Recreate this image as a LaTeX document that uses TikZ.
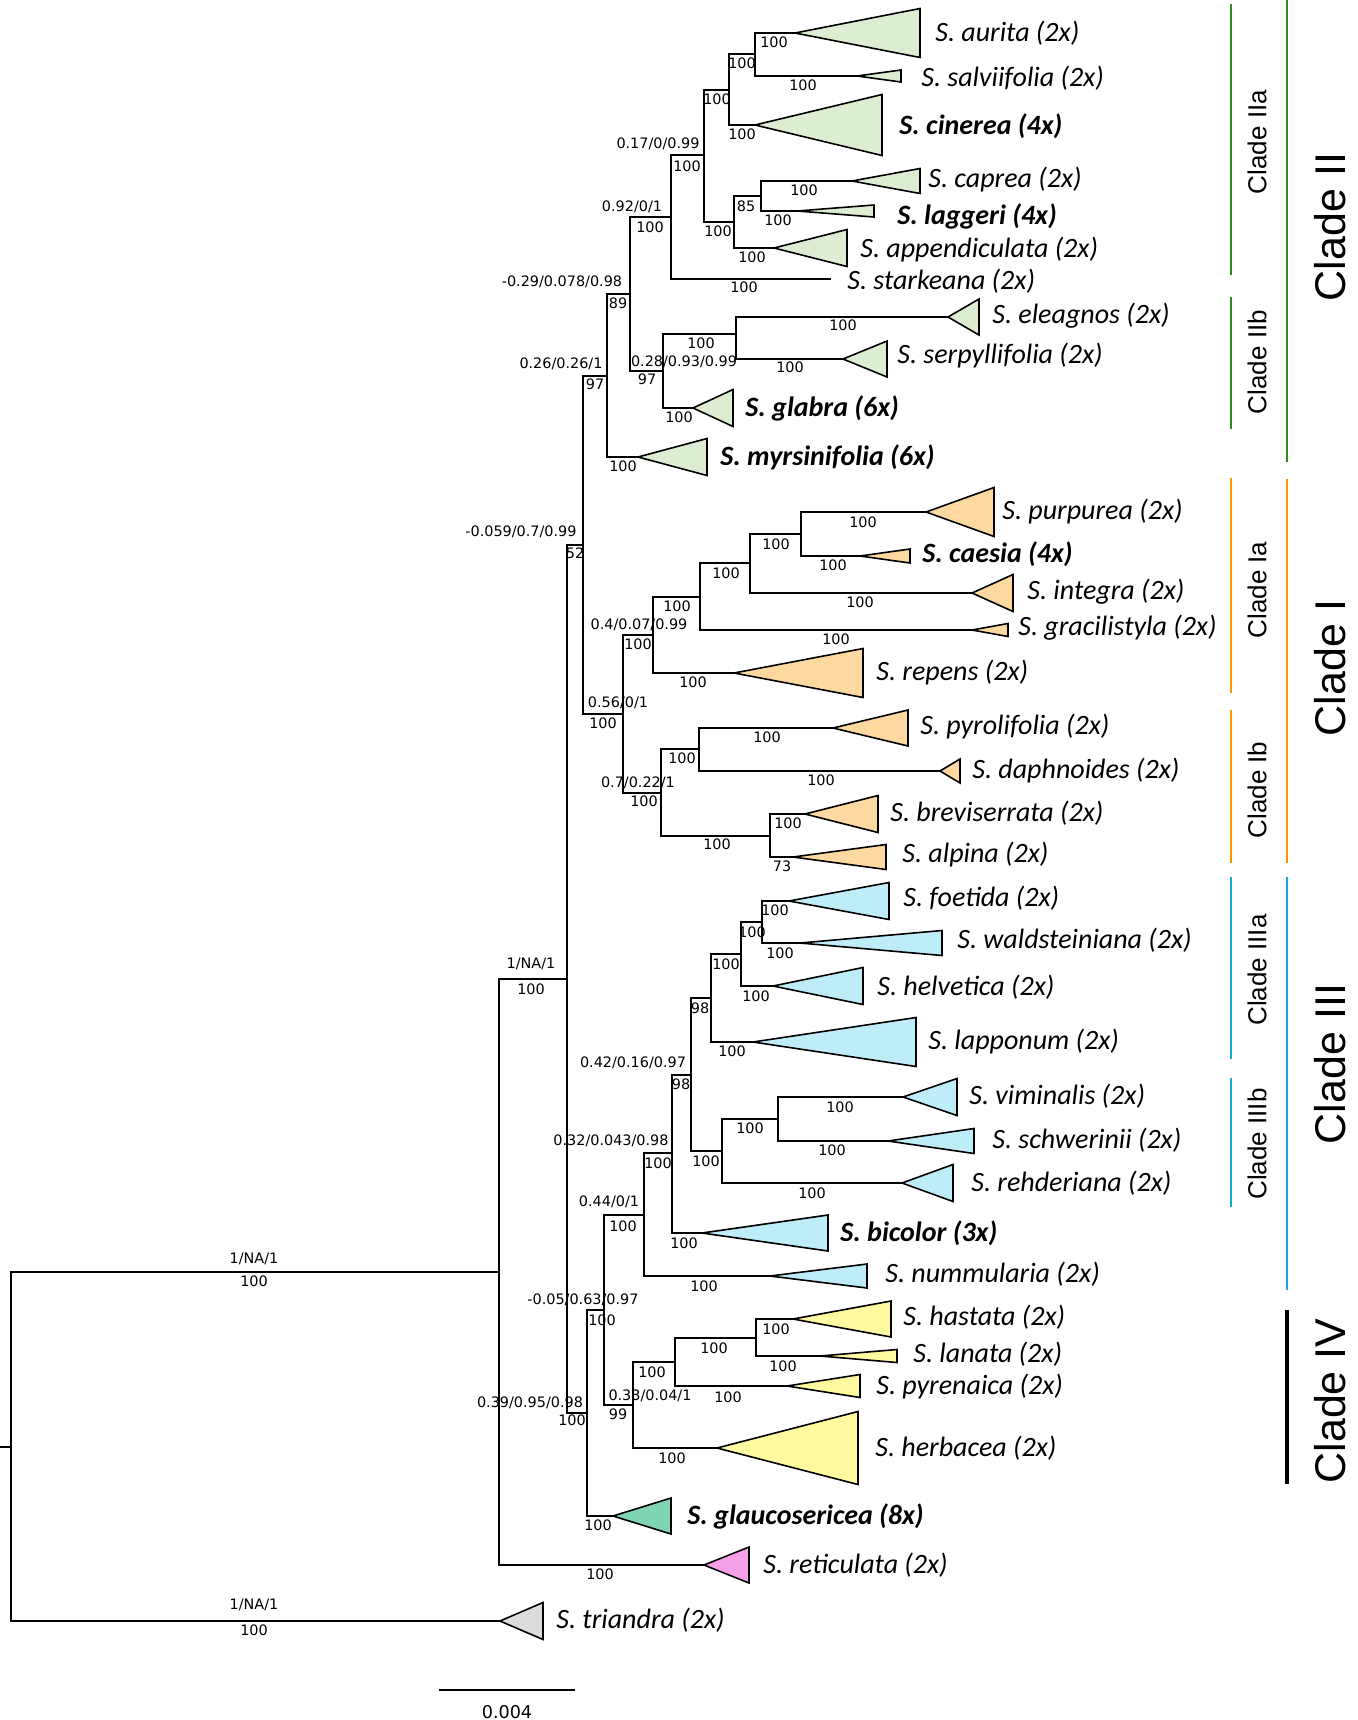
\documentclass[tikz,border=0pt]{standalone}
\usepackage{fontspec}
\newfontfamily\spf{Carlito}
\newfontfamily\bsf{DejaVu Sans}
\newfontfamily\clf{Liberation Sans}
\definecolor{gfill}{RGB}{220,237,210}
\definecolor{ofill}{RGB}{253,216,160}
\definecolor{bfill}{RGB}{190,236,249}
\definecolor{yfill}{RGB}{255,250,160}
\definecolor{tfill}{RGB}{128,214,178}
\definecolor{pfill}{RGB}{245,160,232}
\definecolor{grfill}{RGB}{220,220,220}
\definecolor{gbar}{RGB}{45,140,30}
\definecolor{obar}{RGB}{255,150,0}
\definecolor{bbar}{RGB}{25,170,220}
\newcommand\leaftri[6]{%
  \coordinate (#1) at (#2,#3);
  \draw[tri, fill=#6] (#1) -- (#4,#3-#5) -- (#4,#3+#5) -- cycle;}
\begin{document}
\begin{tikzpicture}[x=0.5pt,y=-0.5pt,
  br/.style={line width=1pt, line cap=rect},
  tri/.style={line width=0.8pt, draw=black, line join=miter},
  sp/.style={anchor=west, inner sep=0pt, font=\spf\itshape\fontsize{14}{16}\selectfont},
  spb/.style={anchor=west, inner sep=0pt, font=\spf\bfseries\itshape\fontsize{14}{16}\selectfont},
  bs/.style={inner sep=0pt, font=\bsf\fontsize{7.2}{8}\selectfont},
  cls/.style={inner sep=0pt, rotate=90, font=\clf\fontsize{13}{15}\selectfont},
  clb/.style={inner sep=0pt, rotate=90, anchor=south, text depth=0pt, font=\clf\fontsize{21.5}{24}\selectfont},
  bar/.style={line width=1.1pt},
  barb/.style={line width=1.4pt}]
\useasboundingbox (0,0) rectangle (1358,1720);
% ---------- internal nodes ----------
\coordinate (R0) at (0,1447);
\coordinate (R) at (11,1447);
\coordinate (N499) at (499,1272);
\coordinate (N567) at (567,979);
\coordinate (N583) at (583,545);
\coordinate (N587) at (587,1413);
\coordinate (N607) at (607,376);
\coordinate (N623) at (623,714);
\coordinate (N630) at (630,294);
\coordinate (N671) at (671,217);
\coordinate (N704) at (704,155);
\coordinate (N729) at (729,90);
\coordinate (N755) at (755,54);
\coordinate (N734) at (734,222);
\coordinate (N761) at (761,196);
\coordinate (N663) at (663,371);
\coordinate (N736) at (736,334);
\coordinate (Lstark) at (830,279);
\coordinate (N653) at (653,635);
\coordinate (N700) at (700,597);
\coordinate (N750) at (750,563);
\coordinate (N801) at (801,534);
\coordinate (N661) at (661,793);
\coordinate (N699) at (699,749);
\coordinate (N770) at (770,836);
\coordinate (N604) at (604,1310);
\coordinate (N644) at (644,1215);
\coordinate (N633) at (633,1405);
\coordinate (N672) at (672,1153);
\coordinate (N691) at (691,1075);
\coordinate (N711) at (711,998);
\coordinate (N722) at (722,1151);
\coordinate (N741) at (741,954);
\coordinate (N762) at (762,922);
\coordinate (N778) at (778,1119);
\coordinate (N675) at (675,1362);
\coordinate (N756) at (756,1338);
% leaf tips
\coordinate (Taur) at (795,33);
\coordinate (Tsal) at (857,76);
\coordinate (Tcin) at (755,125);
\coordinate (Tcap) at (852,181);
\coordinate (Tlag) at (797,211);
\coordinate (Tapp) at (774,248);
\coordinate (Tele) at (948,317);
\coordinate (Tser) at (843,359);
\coordinate (Tgla) at (693,408);
\coordinate (Tmyr) at (638,457);
\coordinate (Tpur) at (926,512);
\coordinate (Tcae) at (860,556);
\coordinate (Tint) at (972,593);
\coordinate (Tgra) at (972,630);
\coordinate (Trep) at (734,673);
\coordinate (Tpyr) at (833,728);
\coordinate (Tdap) at (940,771);
\coordinate (Tbre) at (805,814);
\coordinate (Talp) at (793,857);
\coordinate (Tfoe) at (789,901);
\coordinate (Twal) at (800,943);
\coordinate (Thel) at (773,986);
\coordinate (Tlap) at (753,1042);
\coordinate (Tvim) at (903,1097);
\coordinate (Tsch) at (888,1141);
\coordinate (Treh) at (902,1183);
\coordinate (Tbic) at (702,1233);
\coordinate (Tnum) at (770,1276);
\coordinate (Thas) at (793,1319);
\coordinate (Tlan) at (820,1356);
\coordinate (Tpyre) at (787,1386);
\coordinate (Ther) at (717,1448);
\coordinate (Tglc) at (613,1516);
\coordinate (Tret) at (704,1565);
\coordinate (Ttri) at (500,1621);
% ---------- branches ----------
\draw[br] (R0) -- (R);
\draw[br] (R) |- (N499);  \draw[br] (R) |- (Ttri);
\draw[br] (N499) |- (N567); \draw[br] (N499) |- (Tret);
\draw[br] (N567) |- (N583); \draw[br] (N567) |- (N587);
\draw[br] (N583) |- (N607); \draw[br] (N583) |- (N623);
\draw[br] (N607) |- (N630); \draw[br] (N607) |- (Tmyr);
\draw[br] (N630) |- (N671); \draw[br] (N630) |- (N663);
\draw[br] (N671) |- (N704); \draw[br] (N671) |- (Lstark);
\draw[br] (N704) |- (N729); \draw[br] (N704) |- (N734);
\draw[br] (N729) |- (N755); \draw[br] (N729) |- (Tcin);
\draw[br] (N755) |- (Taur); \draw[br] (N755) |- (Tsal);
\draw[br] (N734) |- (N761); \draw[br] (N734) |- (Tapp);
\draw[br] (N761) |- (Tcap); \draw[br] (N761) |- (Tlag);
\draw[br] (N663) |- (N736); \draw[br] (N663) |- (Tgla);
\draw[br] (N736) |- (Tele); \draw[br] (N736) |- (Tser);
\draw[br] (N623) |- (N653); \draw[br] (N623) |- (N661);
\draw[br] (N653) |- (N700); \draw[br] (N653) |- (Trep);
\draw[br] (N700) |- (N750); \draw[br] (N700) |- (Tgra);
\draw[br] (N750) |- (N801); \draw[br] (N750) |- (Tint);
\draw[br] (N801) |- (Tpur); \draw[br] (N801) |- (Tcae);
\draw[br] (N661) |- (N699); \draw[br] (N661) |- (N770);
\draw[br] (N699) |- (Tpyr); \draw[br] (N699) |- (Tdap);
\draw[br] (N770) |- (Tbre); \draw[br] (N770) |- (Talp);
\draw[br] (N587) |- (N604); \draw[br] (N587) |- (Tglc);
\draw[br] (N604) |- (N644); \draw[br] (N604) |- (N633);
\draw[br] (N644) |- (N672); \draw[br] (N644) |- (Tnum);
\draw[br] (N672) |- (N691); \draw[br] (N672) |- (Tbic);
\draw[br] (N691) |- (N711); \draw[br] (N691) |- (N722);
\draw[br] (N711) |- (N741); \draw[br] (N711) |- (Tlap);
\draw[br] (N741) |- (N762); \draw[br] (N741) |- (Thel);
\draw[br] (N762) |- (Tfoe); \draw[br] (N762) |- (Twal);
\draw[br] (N722) |- (N778); \draw[br] (N722) |- (Treh);
\draw[br] (N778) |- (Tvim); \draw[br] (N778) |- (Tsch);
\draw[br] (N633) |- (N675); \draw[br] (N633) |- (Ther);
\draw[br] (N675) |- (N756); \draw[br] (N675) |- (Tpyre);
\draw[br] (N756) |- (Thas); \draw[br] (N756) |- (Tlan);
% ---------- collapsed clades ----------
\leaftri{Taur}{795}{33}{920}{24.5}{gfill}
\leaftri{Tsal}{857}{76}{901}{6}{gfill}
\leaftri{Tcin}{755}{125}{882}{30.5}{gfill}
\leaftri{Tcap}{852}{181}{920}{12.5}{gfill}
\leaftri{Tlag}{797}{211}{874}{6}{gfill}
\leaftri{Tapp}{774}{248}{847}{18.5}{gfill}
\leaftri{Tele}{948}{317}{979}{18}{gfill}
\leaftri{Tser}{843}{359}{887}{18}{gfill}
\leaftri{Tgla}{693}{408}{733}{18.5}{gfill}
\leaftri{Tmyr}{638}{457}{707}{18.5}{gfill}
\leaftri{Tpur}{926}{512}{994}{24.5}{ofill}
\leaftri{Tcae}{860}{556}{910}{7}{ofill}
\leaftri{Tint}{972}{593}{1013}{18.5}{ofill}
\leaftri{Tgra}{972}{630}{1008}{6.5}{ofill}
\leaftri{Trep}{734}{673}{863}{24.5}{ofill}
\leaftri{Tpyr}{833}{728}{908}{18}{ofill}
\leaftri{Tdap}{940}{771}{960}{12}{ofill}
\leaftri{Tbre}{805}{814}{878}{18.5}{ofill}
\leaftri{Talp}{793}{857}{886}{12.5}{ofill}
\leaftri{Tfoe}{789}{901}{889}{18.5}{bfill}
\leaftri{Twal}{800}{943}{942}{12.5}{bfill}
\leaftri{Thel}{773}{986}{863}{18.5}{bfill}
\leaftri{Tlap}{753}{1042}{916}{24.5}{bfill}
\leaftri{Tvim}{903}{1097}{957}{18.5}{bfill}
\leaftri{Tsch}{888}{1141}{974}{12.5}{bfill}
\leaftri{Treh}{902}{1183}{953}{18.5}{bfill}
\leaftri{Tbic}{702}{1233}{828}{18}{bfill}
\leaftri{Tnum}{770}{1276}{867}{12}{bfill}
\leaftri{Thas}{793}{1319}{891}{18}{yfill}
\leaftri{Tlan}{820}{1356}{897}{6.5}{yfill}
\leaftri{Tpyre}{787}{1386}{860}{11.5}{yfill}
\leaftri{Ther}{717}{1448}{858}{36.5}{yfill}
\leaftri{Tglc}{613}{1516}{671}{18}{tfill}
\leaftri{Tret}{704}{1565}{749}{18}{pfill}
\leaftri{Ttri}{500}{1621}{543}{18.5}{grfill}
% ---------- species labels ----------
\node[sp]  (Laur) at (935,33)   {S. aurita (2x)};
\node[sp]  (Lsal) at (921,78)   {S. salviifolia (2x)};
\node[spb] (Lcin) at (899,126)  {S. cinerea (4x)};
\node[sp]  (Lcap) at (928,180)  {S. caprea (2x)};
\node[spb] (Llag) at (897,216)  {S. laggeri (4x)};
\node[sp]  (Lapp) at (860,250)  {S. appendiculata (2x)};
\node[sp]  (Lsta) at (847,281)  {S. starkeana (2x)};
\node[sp]  (Lele) at (992,316)  {S. eleagnos (2x)};
\node[sp]  (Lser) at (897,356)  {S. serpyllifolia (2x)};
\node[spb] (Lgla) at (745,408)  {S. glabra (6x)};
\node[spb] (Lmyr) at (720,457)  {S. myrsinifolia (6x)};
\node[sp]  (Lpur) at (1002,512) {S. purpurea (2x)};
\node[spb] (Lcae) at (922,554)  {S. caesia (4x)};
\node[sp]  (Lint) at (1027,592) {S. integra (2x)};
\node[sp]  (Lgra) at (1018,628) {S. gracilistyla (2x)};
\node[sp]  (Lrep) at (876,673)  {S. repens (2x)};
\node[sp]  (Lpyr) at (920,727)  {S. pyrolifolia (2x)};
\node[sp]  (Ldap) at (972,771)  {S. daphnoides (2x)};
\node[sp]  (Lbre) at (890,813)  {S. breviserrata (2x)};
\node[sp]  (Lalp) at (902,855)  {S. alpina (2x)};
\node[sp]  (Lfoe) at (903,898)  {S. foetida (2x)};
\node[sp]  (Lwal) at (957,940)  {S. waldsteiniana (2x)};
\node[sp]  (Lhel) at (877,987)  {S. helvetica (2x)};
\node[sp]  (Llap) at (928,1042) {S. lapponum (2x)};
\node[sp]  (Lvim) at (969,1096) {S. viminalis (2x)};
\node[sp]  (Lsch) at (992,1140) {S. schwerinii (2x)};
\node[sp]  (Lreh) at (971,1183) {S. rehderiana (2x)};
\node[spb] (Lbic) at (840,1233) {S. bicolor (3x)};
\node[sp]  (Lnum) at (885,1274) {S. nummularia (2x)};
\node[sp]  (Lhas) at (903,1317) {S. hastata (2x)};
\node[sp]  (Llan) at (913,1354) {S. lanata (2x)};
\node[sp]  (Lpyre) at (876,1387) {S. pyrenaica (2x)};
\node[sp]  (Lher) at (875,1448) {S. herbacea (2x)};
\node[spb] (Lglc) at (687,1516) {S. glaucosericea (8x)};
\node[sp]  (Lret) at (763,1565) {S. reticulata (2x)};
\node[sp]  (Ltri) at (556,1620) {S. triandra (2x)};
% ---------- support values ----------
\node[bs] (s1) at (774,42) {100};
\node[bs] (s2) at (803,85) {100};
\node[bs] (s3) at (742,63) {100};
\node[bs] (s4) at (742,134) {100};
\node[bs] (s5) at (717,99) {100};
\node[bs] (s6) at (718,231) {100};
\node[bs] (s7) at (746,206) {85};
\node[bs] (s8) at (804,190) {100};
\node[bs] (s9) at (778,220) {100};
\node[bs] (s10) at (752,257) {100};
\node[bs] (s11a) at (658,144) {0.17/0/0.99};
\node[bs] (s11b) at (687,166) {100};
\node[bs] (s12) at (744,287) {100};
\node[bs] (s13a) at (632,207) {0.92/0/1};
\node[bs] (s13b) at (650,227) {100};
\node[bs] (s14a) at (562,282) {-0.29/0.078/0.98};
\node[bs] (s14b) at (618,303) {89};
\node[bs] (s15a) at (684,362) {0.28/0.93/0.99};
\node[bs] (s15b) at (647,379) {97};
\node[bs] (s16) at (701,343) {100};
\node[bs] (s17) at (843,325) {100};
\node[bs] (s18) at (790,367) {100};
\node[bs] (s19) at (679,417) {100};
\node[bs] (s20) at (623,466) {100};
\node[bs] (s21a) at (561,364) {0.26/0.26/1};
\node[bs] (s21b) at (595,384) {97};
\node[bs] (s22a) at (521,532) {-0.059/0.7/0.99};
\node[bs] (s22b) at (575,553) {52};
\node[bs] (s23) at (776,544) {100};
\node[bs] (s24) at (863,522) {100};
\node[bs] (s25) at (833,565) {100};
\node[bs] (s26) at (726,573) {100};
\node[bs] (s27) at (860,602) {100};
\node[bs] (s28) at (677,606) {100};
\node[bs] (s29) at (836,639) {100};
\node[bs] (s30a) at (639,625) {0.4/0.07/0.99};
\node[bs] (s30b) at (638,644) {100};
\node[bs] (s31) at (693,682) {100};
\node[bs] (s32a) at (618,703) {0.56/0/1};
\node[bs] (s32b) at (603,723) {100};
\node[bs] (s33) at (682,758) {100};
\node[bs] (s34) at (767,737) {100};
\node[bs] (s35) at (821,780) {100};
\node[bs] (s36a) at (638,783) {0.7/0.22/1};
\node[bs] (s36b) at (644,801) {100};
\node[bs] (s37) at (717,844) {100};
\node[bs] (s38) at (788,823) {100};
\node[bs] (s39) at (782,866) {73};
\node[bs] (s40a) at (531,964) {1/NA/1};
\node[bs] (s40b) at (531,989) {100};
\node[bs] (s41) at (775,910) {100};
\node[bs] (s42) at (780,953) {100};
\node[bs] (s43) at (752,932) {100};
\node[bs] (s44) at (756,996) {100};
\node[bs] (s45) at (726,964) {100};
\node[bs] (s46) at (732,1051) {100};
\node[bs] (s47) at (700,1008) {98};
\node[bs] (s48a) at (633,1063) {0.42/0.16/0.97};
\node[bs] (s48b) at (681,1084) {98};
\node[bs] (s49) at (840,1107) {100};
\node[bs] (s50) at (832,1150) {100};
\node[bs] (s51) at (750,1128) {100};
\node[bs] (s52) at (812,1193) {100};
\node[bs] (s53) at (706,1161) {100};
\node[bs] (s54a) at (611,1141) {0.32/0.043/0.98};
\node[bs] (s54b) at (658,1163) {100};
\node[bs] (s55) at (684,1243) {100};
\node[bs] (s56) at (704,1286) {100};
\node[bs] (s57a) at (609,1202) {0.44/0/1};
\node[bs] (s57b) at (623,1226) {100};
\node[bs] (s58a) at (583,1300) {-0.05/0.63/0.97};
\node[bs] (s58b) at (602,1320) {100};
\node[bs] (s59) at (776,1329) {100};
\node[bs] (s60) at (783,1366) {100};
\node[bs] (s61) at (714,1348) {100};
\node[bs] (s62) at (728,1397) {100};
\node[bs] (s63) at (652,1372) {100};
\node[bs] (s64a) at (650,1396) {0.33/0.04/1};
\node[bs] (s64b) at (618,1414) {99};
\node[bs] (s65) at (672,1458) {100};
\node[bs] (s66a) at (530,1403) {0.39/0.95/0.98};
\node[bs] (s66b) at (572,1420) {100};
\node[bs] (s67) at (598,1525) {100};
\node[bs] (s68) at (600,1574) {100};
\node[bs] (s69a) at (254,1259) {1/NA/1};
\node[bs] (s69b) at (254,1281) {100};
\node[bs] (s70a) at (254,1605) {1/NA/1};
\node[bs] (s70b) at (254,1630) {100};
% ---------- scale bar ----------
\coordinate (SB1) at (439,1690);
\coordinate (SB2) at (575,1690);
\draw[br, line cap=butt] (SB1) -- (SB2);
\node[inner sep=0pt, font=\bsf\fontsize{8.8}{10}\selectfont] (SBL) at (507,1712) {0.004};
% ---------- clade bars ----------
\draw[bar, gbar] (1231,4) -- (1231,275);
\draw[bar, gbar] (1231,297) -- (1231,429);
\draw[barb, gbar] (1287,0) -- (1287,462);
\draw[bar, obar] (1231,478) -- (1231,693);
\draw[bar, obar] (1231,710) -- (1231,863);
\draw[barb, obar] (1287,479) -- (1287,863);
\draw[bar, bbar] (1231,877) -- (1231,1059);
\draw[bar, bbar] (1231,1078) -- (1231,1207);
\draw[barb, bbar] (1287,877) -- (1287,1290);
\draw[barb, black, line width=1.6pt] (1287,1310) -- (1287,1484);
\node[cls] (C2a) at (1257,142) {Clade IIa};
\node[cls] (C2b) at (1257,362) {Clade IIb};
\node[clb] (C2)  at (1346,227) {Clade II};
\node[cls] (C1a) at (1257,590) {Clade Ia};
\node[cls] (C1b) at (1257,790) {Clade Ib};
\node[clb] (C1)  at (1346,668) {Clade I};
\node[cls] (C3a) at (1257,970) {Clade IIIa};
\node[cls] (C3b) at (1257,1144) {Clade IIIb};
\node[clb] (C3)  at (1346,1064) {Clade III};
\node[clb] (C4)  at (1346,1401) {Clade IV};
\end{tikzpicture}
\end{document}
